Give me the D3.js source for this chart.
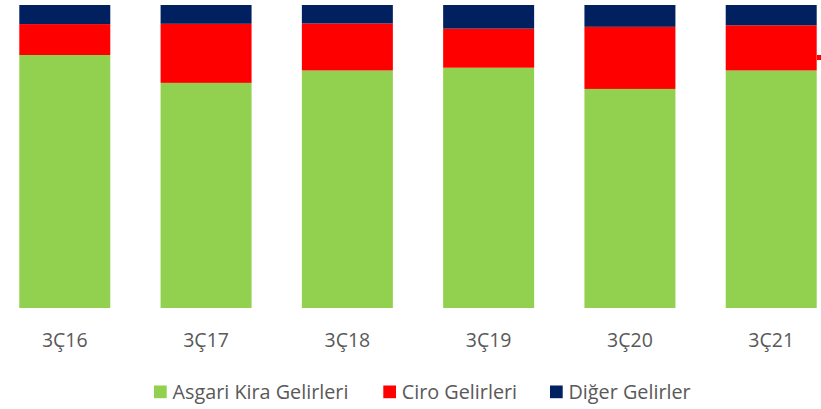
<!DOCTYPE html>
<html>
<head>
<meta charset="utf-8">
<script src="https://cdn.jsdelivr.net/npm/d3@7"></script>
<style>
  html, body { margin: 0; padding: 0; background: #fff; }
  svg { display: block; font-family: "Open Sans", sans-serif; }
</style>
</head>
<body>
<svg id="chart" width="821" height="409"></svg>
<script>
const categories = ["3Ç16", "3Ç17", "3Ç18", "3Ç19", "3Ç20", "3Ç21"];
const seriesNames = ["Asgari Kira Gelirleri", "Ciro Gelirleri", "Diğer Gelirler"];
const asgariKira = [83.5, 74.3, 78.4, 79.3, 72.3, 78.4];
const ciro = [10.2, 19.5, 15.5, 12.9, 20.5, 14.9];
const diger = [6.3, 6.2, 6.1, 7.8, 7.2, 6.7];
const colors = ["#92D050", "#FF0000", "#002060"];

const svg = d3.select("#chart");

const rows = categories.map((c, i) => ({
  cat: c,
  [seriesNames[0]]: asgariKira[i],
  [seriesNames[1]]: ciro[i],
  [seriesNames[2]]: diger[i]
}));
const stack = d3.stack().keys(seriesNames).offset(d3.stackOffsetExpand);
const series = stack(rows);

const x = d3.scaleBand()
  .domain(categories)
  .range([-5.85, 841.85])
  .paddingInner(0.356)
  .paddingOuter(0.178);
const y = d3.scaleLinear().domain([0, 1]).range([308, 5]);

svg.append("g").selectAll("g")
  .data(series)
  .join("g")
  .attr("fill", (d, i) => colors[i])
  .selectAll("rect")
  .data(d => d)
  .join("rect")
  .attr("x", d => x(d.data.cat))
  .attr("width", x.bandwidth())
  .attr("y", d => y(d[1]))
  .attr("height", d => y(d[0]) - y(d[1]));

// small red stub at right edge (from reference)
svg.append("rect")
  .attr("x", 817).attr("y", 55).attr("width", 4).attr("height", 5)
  .attr("fill", "#FF0000");

// category labels
const xAxis = d3.axisBottom(x).tickSize(0).tickPadding(0);
const gx = svg.append("g").attr("transform", "translate(0,308)").call(xAxis);
gx.select(".domain").remove();
gx.selectAll("text")
  .attr("y", 0)
  .attr("dy", null)
  .attr("transform", "translate(0,39)")
  .attr("fill", "#595959")
  .style("font-size", "19.5px")
  .style("font-family", "'Open Sans', sans-serif");

// legend
const legendX = [154, 383.3, 550];
const lg = svg.append("g");
seriesNames.forEach((name, i) => {
  lg.append("rect")
    .attr("x", legendX[i]).attr("y", 385.5)
    .attr("width", 12.7).attr("height", 12.7)
    .attr("fill", colors[i]);
  lg.append("text")
    .attr("x", legendX[i] + 18.5).attr("y", 399)
    .attr("fill", "#595959")
    .style("font-size", "19.8px")
    .text(name);
});
</script>
</body>
</html>
